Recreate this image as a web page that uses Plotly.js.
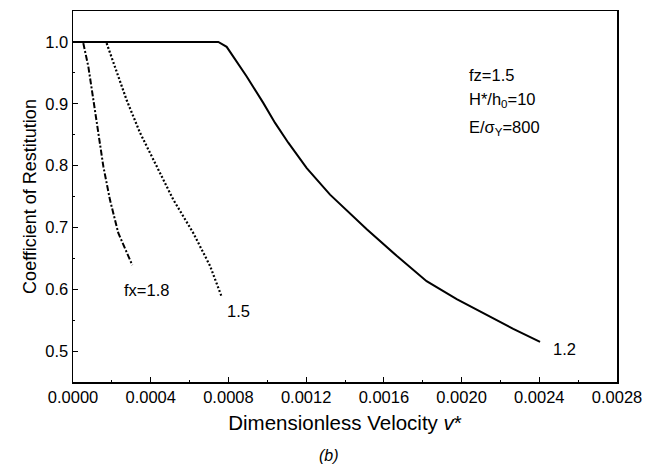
<!DOCTYPE html>
<html>
<head>
<meta charset="utf-8">
<script src="https://cdn.plot.ly/plotly-3.0.1.min.js"></script>
<style>html,body{margin:0;padding:0;background:#fff;}#chart{width:651px;height:472px;}</style>
</head>
<body>
<div id="chart"></div>
<script>
// fx = 1.2 (solid)
var x12 = [0.0, 0.000748, 0.000791, 0.000894, 0.000980, 0.00104, 0.001108, 0.001203, 0.001323, 0.001512, 0.001666, 0.00182, 0.001975, 0.002129, 0.002266, 0.002404];
var y12 = [1.0, 1.0, 0.992, 0.944, 0.901, 0.869, 0.837, 0.796, 0.753, 0.697, 0.654, 0.613, 0.584, 0.558, 0.536, 0.515];
// fx = 1.5 (dotted)
var x15 = [0.000173, 0.000216, 0.000276, 0.000345, 0.000431, 0.000516, 0.000619, 0.000705, 0.000765];
var y15 = [0.998, 0.960, 0.906, 0.853, 0.799, 0.745, 0.691, 0.638, 0.588];
// fx = 1.8 (dash-dot)
var x18 = [0.000053, 0.000079, 0.000105, 0.00013, 0.000156, 0.00019, 0.000233, 0.000305];
var y18 = [0.998, 0.960, 0.906, 0.853, 0.799, 0.745, 0.691, 0.639];

var xTicks = [0.0, 0.0004, 0.0008, 0.0012, 0.0016, 0.0020, 0.0024, 0.0028];
var xTickText = ["0.0000", "0.0004", "0.0008", "0.0012", "0.0016", "0.0020", "0.0024", "0.0028"];
var yTicks = [0.5, 0.6, 0.7, 0.8, 0.9, 1.0];
var yTickText = ["0.5", "0.6", "0.7", "0.8", "0.9", "1.0"];

var FONT = "Liberation Sans, Arial, sans-serif";

var traces = [
  {x: x12, y: y12, mode: "lines", line: {color: "#000", width: 2, dash: "solid"}, showlegend: false, hoverinfo: "none"},
  {x: x15, y: y15, mode: "lines", line: {color: "#000", width: 2.2, dash: "2px,2px"}, showlegend: false, hoverinfo: "none"},
  {x: x18, y: y18, mode: "lines", line: {color: "#000", width: 2, dash: "6px,2px,2px,2px"}, showlegend: false, hoverinfo: "none"}
];

var layout = {
  width: 651, height: 472,
  margin: {l: 73, r: 34, t: 11, b: 90},
  paper_bgcolor: "#fff", plot_bgcolor: "#fff",
  font: {family: FONT, color: "#000", size: 16},
  xaxis: {
    range: [0, 0.0028], tickmode: "array", tickvals: xTicks, ticktext: xTickText,
    ticks: "inside", ticklen: 5, tickwidth: 1, tickcolor: "#000",
    minor: {dtick: 0.0002, ticks: "inside", ticklen: 2, tickcolor: "#000"},
    showline: true, linecolor: "#000", linewidth: 1.5, mirror: true,
    showgrid: false, zeroline: false,
    tickfont: {size: 16.5, family: FONT},
    title: {text: "Dimensionless Velocity <i>v</i>*", font: {size: 20.5, family: FONT}, standoff: 10}
  },
  yaxis: {
    range: [0.45, 1.05], tickmode: "array", tickvals: yTicks, ticktext: yTickText,
    ticks: "inside", ticklen: 5, tickwidth: 1, tickcolor: "#000",
    minor: {dtick: 0.05, ticks: "inside", ticklen: 2, tickcolor: "#000"},
    showline: true, linecolor: "#000", linewidth: 1.5, mirror: true,
    showgrid: false, zeroline: false,
    tickfont: {size: 16.5, family: FONT},
    title: {text: "Coefficient of Restitution", font: {size: 18, family: FONT}, standoff: 4}
  },
  annotations: [
    {x: 0.000376, y: 0.598, xref: "x", yref: "y", text: "fx=1.8", showarrow: false, font: {size: 16.5, family: FONT}},
    {x: 0.00085, y: 0.5645, xref: "x", yref: "y", text: "1.5", showarrow: false, font: {size: 16.5, family: FONT}},
    {x: 0.002532, y: 0.503, xref: "x", yref: "y", text: "1.2", showarrow: false, font: {size: 16.5, family: FONT}},
    {x: 0.00203, y: 0.947, xref: "x", yref: "y", xanchor: "left", text: "fz=1.5", showarrow: false, font: {size: 16.5, family: FONT}},
    {x: 0.00203, y: 0.906, xref: "x", yref: "y", xanchor: "left", text: "H*/h<sub>0</sub>=10", showarrow: false, font: {size: 16.5, family: FONT}},
    {x: 0.00203, y: 0.861, xref: "x", yref: "y", xanchor: "left", text: "E/σ<sub>Y</sub>=800", showarrow: false, font: {size: 16.5, family: FONT}},
    {x: 0, y: 0, xref: "paper", yref: "paper", text: "<i>(b)</i>", showarrow: false, font: {size: 16, family: FONT}}
  ]
};
// place (b) in pixel terms via paper coords
var pw = 651 - 73 - 34, ph = 472 - 11 - 90;
layout.annotations[6].x = (329 - 73) / pw;
layout.annotations[6].y = (382 - 466) / ph;

Plotly.newPlot("chart", traces, layout, {staticPlot: true, displayModeBar: false});
</script>
</body>
</html>
